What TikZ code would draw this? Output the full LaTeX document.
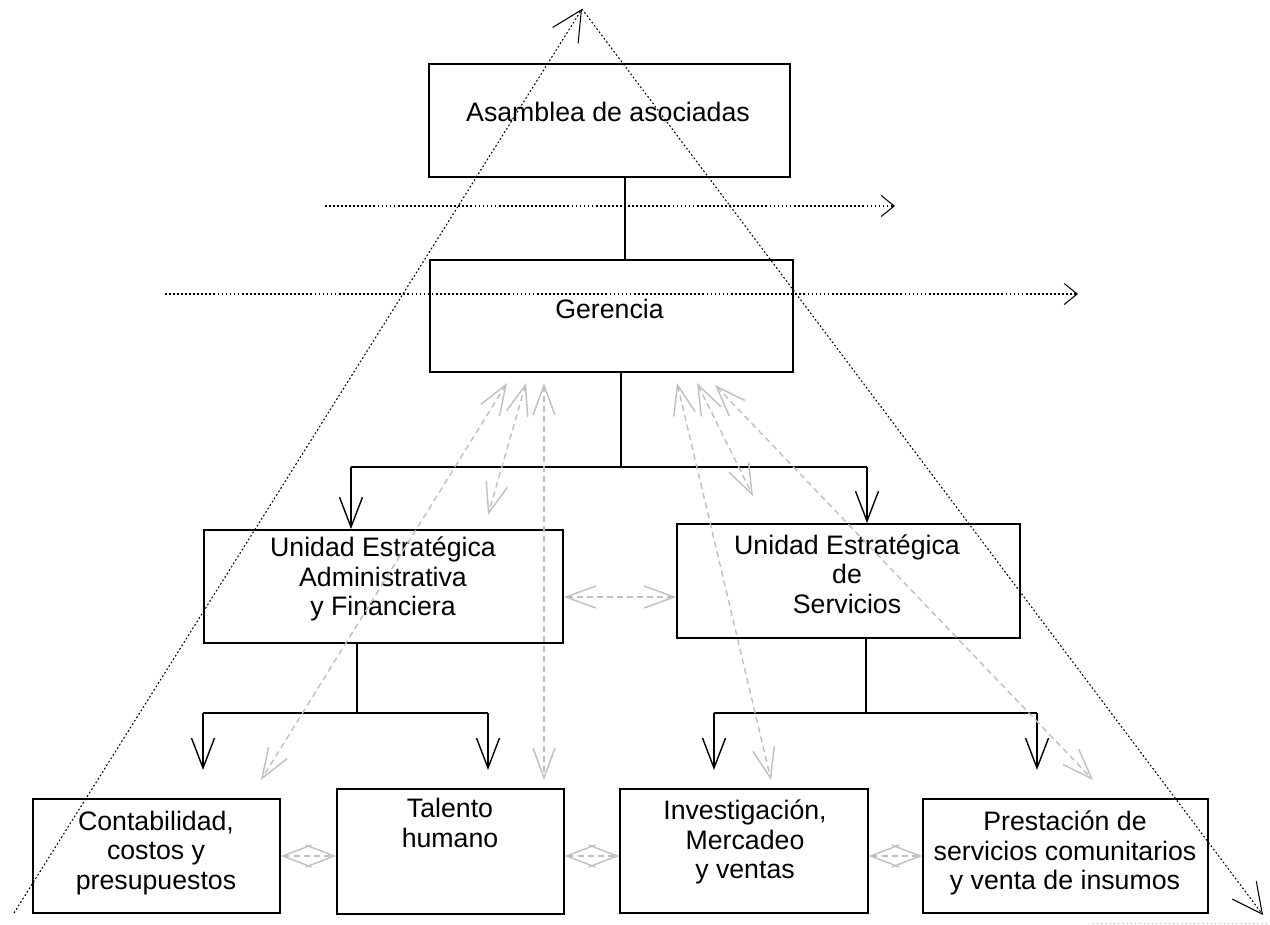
\documentclass[tikz,border=0pt]{standalone}
\usepackage{fontspec}
\setmainfont{Liberation Sans}
\usetikzlibrary{arrows.meta}

\begin{document}
\begin{tikzpicture}[
    x=0.02cm, y=-0.02cm,
    box/.style={draw=black, line width=1pt, inner sep=0pt},
    label/.style={font=\fontsize{15.2}{16.8}\selectfont, align=center, inner sep=0pt},
    tree/.style={line width=0.8pt, -{Straight Barb[length=0.6cm, width=0.46cm]}},
    rel/.style={draw=black!25, line width=0.8pt, dash pattern=on 3.4pt off 2.3pt,
        {Straight Barb[length=0.6cm, width=0.44cm]}-{Straight Barb[length=0.6cm, width=0.44cm]}},
    pair/.style={rel, {Straight Barb[length=0.57cm, width=0.44cm]}-{Straight Barb[length=0.57cm, width=0.44cm]}},
    level/.style={line width=0.6pt, dash pattern=on 1pt off 1.3pt, -{Straight Barb[length=0.26cm, width=0.42cm]}},
    edge/.style={line width=0.6pt, dash pattern=on 1pt off 1.3pt, -{Straight Barb[length=0.6cm, width=0.6cm]}}
]
    \useasboundingbox (0,0) rectangle (1270,925);

    % boxes
    \node[box, minimum width=7.22cm, minimum height=2.26cm] (asam) at (609.5,120.5) {};
    \node[box, minimum width=7.26cm, minimum height=2.24cm] (geren) at (611.5,316) {};
    \node[box, minimum width=7.18cm, minimum height=2.26cm] (uadmin) at (383.5,586.5) {};
    \node[box, minimum width=6.86cm, minimum height=2.28cm] (userv) at (848.5,581) {};
    \node[box, minimum width=4.94cm, minimum height=2.28cm] (conta) at (156.5,856) {};
    \node[box, minimum width=4.54cm, minimum height=2.50cm] (talen) at (450.5,851.5) {};
    \node[box, minimum width=4.96cm, minimum height=2.48cm] (inves) at (744,851) {};
    \node[box, minimum width=5.70cm, minimum height=2.28cm] (prest) at (1065.5,856) {};

    % texts
    \node[label] (asamtxt) at (608,112) {Asamblea de asociadas};
    \node[label] (gerentxt) at (609.5,309) {Gerencia};
    \node[label] (uadmintxt) at (383,579) {Unidad Estratégica\\Administrativa\\y Financiera};
    \node[label] (uservtxt) at (847,574) {Unidad Estratégica\\de\\Servicios};
    \node[label] (contatxt) at (156,853) {Contabilidad,\\costos y\\presupuestos};
    \node[label] (talentxt) at (450,823) {Talento\\humano};
    \node[label] (investxt) at (745,842) {Investigación,\\Mercadeo\\y ventas};
    \node[label] (presttxt) at (1065,853) {Prestación de\\servicios comunitarios\\y venta de insumos};

    % branch points
    \coordinate (gbar) at (621,467);
    \coordinate (gl) at (351,467);
    \coordinate (gr) at (867,467);
    \coordinate (abar) at (357,713);
    \coordinate (al) at (203,713);
    \coordinate (ar) at (488,713);
    \coordinate (sbar) at (866,713);
    \coordinate (sl) at (714,713);
    \coordinate (sr) at (1037,713);

    % hierarchy
    \draw[line width=0.8pt] ([xshift=0.31cm]asam.south) -- ([xshift=0.31cm]asam.south |- geren.north);
    \draw[line width=0.8pt] (geren.south -| gbar) -- (gbar) (gl) -- (gr);
    \draw[tree] (gl) -- (gl |- uadmin.north);
    \draw[tree] (gr) -- (gr |- userv.north);
    \draw[line width=0.8pt] (uadmin.south -| abar) -- (abar) (al) -- (ar);
    \draw[tree] (al) -- ++(0,57);
    \draw[tree] (ar) -- ++(0,57);
    \draw[line width=0.8pt] (userv.south -| sbar) -- (sbar) (sl) -- (sr);
    \draw[tree] (sl) -- ++(0,57);
    \draw[tree] (sr) -- ++(0,57);

    % relations
    \coordinate (g1) at (507,383);
    \coordinate (g2) at (526,383);
    \coordinate (g3) at (544,383);
    \coordinate (g4) at (677,383);
    \coordinate (g5) at (697,383);
    \coordinate (g6) at (715,385);
    \coordinate (c1) at (261,780);
    \coordinate (a1) at (488,515);
    \coordinate (t1) at (544,780);
    \coordinate (i1) at (771,780);
    \coordinate (s1) at (753,496);
    \coordinate (p1) at (1093,780);
    \draw[rel] (g1) -- (c1);
    \draw[rel] (g2) -- (a1);
    \draw[rel] (g3) -- (t1);
    \draw[rel] (g4) -- (i1);
    \draw[rel] (g5) -- (s1);
    \draw[rel] (g6) -- (p1);
    \draw[rel] ([yshift=-0.21cm]uadmin.east) -- ([yshift=-0.21cm]uadmin.east -| userv.west);
    \draw[pair] (conta.east) -- (conta.east -| talen.west);
    \draw[pair] (talen.east |- conta.east) -- (inves.west |- conta.east);
    \draw[pair] (inves.east |- conta.east) -- (prest.west |- conta.east);

    % levels
    \coordinate (h1l) at (325,206);
    \coordinate (h1r) at (895,206);
    \coordinate (h2l) at (165,294);
    \coordinate (h2r) at (1078,294);
    \coordinate (apex) at (582,9);
    \coordinate (base l) at (14,913);
    \coordinate (base r) at (1263,915);
    \draw[level] (h1l) -- (h1r);
    \draw[level] (h2l) -- (h2r);
    \draw[edge] (base l) -- (apex);
    \draw[edge] (apex) -- (base r);
    \draw[black!30, line width=0.4pt, dotted] (1093,923) -- (1270,923);
\end{tikzpicture}
\end{document}
